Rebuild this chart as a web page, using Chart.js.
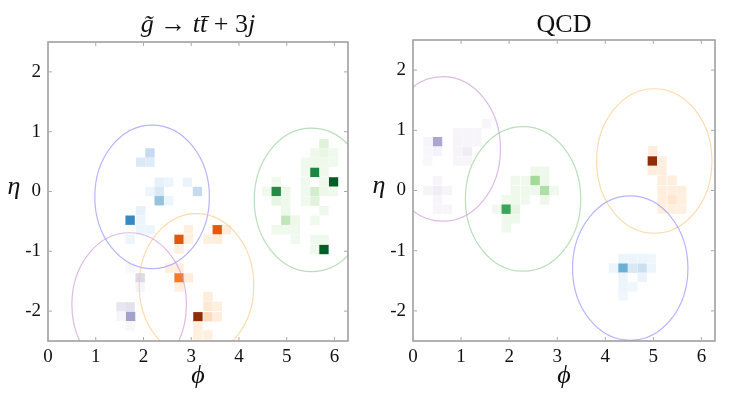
<!DOCTYPE html>
<html>
<head>
<meta charset="utf-8">
<script src="https://cdn.jsdelivr.net/npm/chart.js@4.4.1/dist/chart.umd.min.js"></script>
<style>
  html, body { margin: 0; padding: 0; background: #fff; }
  #wrap { position: relative; width: 738px; height: 398px; }
  canvas { position: absolute; top: 0; }
</style>
</head>
<body>
<div id="wrap">
  <canvas id="sigChart" width="369" height="398" style="left:0"></canvas>
  <canvas id="qcdChart" width="369" height="398" style="left:369px"></canvas>
</div>
<script>
// axes
const phiTicks = [0, 1, 2, 3, 4, 5, 6];
const etaTicks = [-2, -1, 0, 1, 2];
const PHI_MAX = 2 * Math.PI;
const ETA_MIN = -2.5, ETA_MAX = 2.5;
const CELL_DPHI = 2 * Math.PI / 32;   // image is 32 x 32 pixels
const JET_R = 1.2;

// signal event, cells are [phi, eta, intensity]
const sigBlue = [
  [2.135, 0.645, 0.25], [1.94, 0.49, 0.14], [2.135, 0.49, 0.12],
  [2.33, 0.155, 0.08], [2.53, 0.155, 0.05], [2.92, 0.155, 0.06],
  [2.135, 0.0, 0.05], [2.33, 0.0, 0.15], [3.13, 0.0, 0.25],
  [2.33, -0.155, 0.4], [2.53, -0.155, 0.05], [1.94, -0.32, 0.08],
  [1.72, -0.48, 0.66], [1.94, -0.48, 0.05], [1.94, -0.64, 0.05],
  [2.135, -0.64, 0.05], [1.72, -0.80, 0.05]
];
const sigGreen = [
  [5.78, 0.80, 0.15], [5.59, 0.645, 0.06], [5.78, 0.645, 0.1], [5.98, 0.645, 0.05],
  [5.39, 0.49, 0.05], [5.59, 0.49, 0.06], [5.78, 0.49, 0.06], [5.98, 0.49, 0.05],
  [5.39, 0.33, 0.05], [5.59, 0.32, 0.77], [5.78, 0.33, 0.06],
  [5.98, 0.16, 0.93], [5.78, 0.16, 0.06], [5.39, 0.16, 0.05], [4.78, 0.16, 0.05],
  [4.58, 0.0, 0.05], [4.78, 0.0, 0.75], [4.98, 0.0, 0.07], [5.39, 0.0, 0.05],
  [5.59, 0.0, 0.2], [5.78, 0.0, 0.07], [5.98, 0.0, 0.06],
  [4.78, -0.16, 0.12], [4.98, -0.16, 0.06], [5.39, -0.16, 0.05], [5.59, -0.16, 0.15],
  [4.98, -0.32, 0.06], [5.78, -0.32, 0.06],
  [4.98, -0.48, 0.27], [5.18, -0.48, 0.07], [5.59, -0.48, 0.05],
  [4.78, -0.64, 0.05], [4.98, -0.64, 0.05], [5.18, -0.64, 0.05],
  [5.18, -0.80, 0.05], [5.59, -0.80, 0.05], [5.78, -0.80, 0.05],
  [5.59, -0.97, 0.05], [5.78, -0.97, 0.92]
];
const sigPurple = [
  [1.72, -1.28, 0.04], [1.93, -1.445, 0.25], [1.93, -1.60, 0.05],
  [1.53, -1.93, 0.18], [1.72, -1.93, 0.2], [1.53, -2.09, 0.05],
  [1.73, -2.09, 0.48], [1.72, -2.25, 0.04]
];
const sigOrange = [
  [3.545, -0.64, 0.69], [3.74, -0.64, 0.07], [2.94, -0.64, 0.05],
  [2.745, -0.80, 0.7], [2.94, -0.80, 0.05], [3.35, -0.80, 0.05], [3.545, -0.80, 0.06],
  [2.745, -0.96, 0.05], [2.55, -1.28, 0.05], [2.745, -1.28, 0.06],
  [2.745, -1.445, 0.57], [2.94, -1.445, 0.07], [2.745, -1.60, 0.05],
  [3.35, -1.76, 0.07], [3.35, -1.92, 0.1], [3.545, -1.92, 0.05],
  [3.14, -2.095, 0.95], [3.35, -2.095, 0.18], [3.545, -2.095, 0.06],
  [3.14, -2.25, 0.05], [3.14, -2.40, 0.05], [3.35, -2.40, 0.05]
];
// jet axes: blue, green, purple, orange
const sigJetPhi = [2.18, 5.52, 1.70, 3.11];
const sigJetEta = [-0.09, -0.14, -1.89, -1.57];

// QCD event
const qcdPurple = [
  [0.51, 0.81, 0.45], [0.31, 0.81, 0.05], [0.51, 0.65, 0.07], [0.31, 0.65, 0.04],
  [0.31, 0.49, 0.04], [0.93, 0.96, 0.05], [1.13, 0.96, 0.05], [1.33, 0.96, 0.05],
  [1.53, 1.11, 0.05], [0.93, 0.81, 0.06], [1.13, 0.81, 0.05], [1.33, 0.81, 0.05],
  [0.93, 0.65, 0.06], [1.13, 0.65, 0.12], [0.93, 0.49, 0.05], [1.13, 0.49, 0.05],
  [0.51, 0.165, 0.05], [0.31, 0.0, 0.06], [0.51, 0.0, 0.12], [0.71, 0.0, 0.06],
  [0.51, -0.155, 0.05], [0.51, -0.31, 0.05], [0.71, -0.31, 0.05]
];
const qcdGreen = [
  [2.54, 0.32, 0.07], [2.74, 0.32, 0.06], [2.13, 0.165, 0.06], [2.34, 0.165, 0.05],
  [2.54, 0.165, 0.37], [2.74, 0.165, 0.07], [2.13, 0.0, 0.06], [2.34, 0.0, 0.06],
  [2.54, 0.0, 0.06], [2.74, 0.0, 0.33], [2.94, 0.0, 0.05], [1.94, -0.155, 0.05],
  [2.13, -0.155, 0.06], [2.34, -0.155, 0.05], [2.74, -0.155, 0.07], [1.74, -0.31, 0.05],
  [1.94, -0.31, 0.65], [2.13, -0.31, 0.12], [1.94, -0.47, 0.06], [2.13, -0.47, 0.06],
  [1.94, -0.62, 0.05]
];
const qcdOrange = [
  [4.99, 0.66, 0.07], [4.98, 0.49, 0.95], [5.18, 0.49, 0.05], [4.98, 0.33, 0.05],
  [5.18, 0.33, 0.06], [5.18, 0.17, 0.06], [5.39, 0.17, 0.06], [5.18, 0.0, 0.06],
  [5.39, 0.0, 0.06], [5.59, 0.0, 0.05], [5.18, -0.155, 0.06], [5.39, -0.155, 0.12],
  [5.59, -0.155, 0.05], [5.18, -0.31, 0.05], [5.39, -0.31, 0.05], [5.59, -0.31, 0.04]
];
const qcdBlue = [
  [4.37, -1.13, 0.05], [4.57, -1.13, 0.05], [4.77, -1.13, 0.05], [4.96, -1.13, 0.04],
  [4.17, -1.29, 0.05], [4.37, -1.29, 0.5], [4.57, -1.29, 0.15], [4.77, -1.29, 0.22],
  [4.96, -1.29, 0.05], [4.37, -1.44, 0.05], [4.77, -1.44, 0.06], [4.37, -1.6, 0.05],
  [4.57, -1.6, 0.04], [4.37, -1.75, 0.04]
];
// jet axes: purple, green, orange, blue
const qcdJetPhi = [0.62, 2.29, 5.02, 4.52];
const qcdJetEta = [0.69, -0.14, 0.49, -1.29];

// matplotlib sequential colormaps
const CMAPS = {
  Blues: ['#f7fbff', '#deebf7', '#c6dbef', '#9ecae1', '#6baed6', '#4292c6', '#2171b5', '#08519c', '#08306b'],
  Greens: ['#f7fcf5', '#e5f5e0', '#c7e9c0', '#a1d99b', '#74c476', '#41ab5d', '#238b45', '#006d2c', '#00441b'],
  Oranges: ['#fff5eb', '#fee6ce', '#fdd0a2', '#fdae6b', '#fd8d3c', '#f16913', '#d94801', '#a63603', '#7f2704'],
  Purples: ['#fcfbfd', '#efedf5', '#dadaeb', '#bcbddc', '#9e9ac8', '#807dba', '#6a51a3', '#54278f', '#3f007d']
};
const RING = {
  Blues: 'rgba(120,120,255,0.55)',
  Greens: 'rgba(130,195,130,0.55)',
  Oranges: 'rgba(253,195,120,0.6)',
  Purples: 'rgba(200,140,210,0.6)'
};
const SERIF = '"Liberation Serif", "DejaVu Serif", serif';

function hexToRgb(h) {
  const n = parseInt(h.slice(1), 16);
  return [n >> 16, (n >> 8) & 255, n & 255];
}

function cmapColor(name, t) {
  const stops = CMAPS[name];
  const p = Math.min(Math.max(t, 0), 1) * (stops.length - 1);
  const i = Math.min(Math.floor(p), stops.length - 2);
  const f = p - i;
  const a = hexToRgb(stops[i]), b = hexToRgb(stops[i + 1]);
  return 'rgb(' + a.map((v, k) => Math.round(v + (b[k] - v) * f)).join(',') + ')';
}

// jet circles, frame with inward ticks, title and eta label
const decorPlugin = {
  id: 'decor',
  afterDatasetsDraw(chart, args, opts) {
    const { ctx, chartArea: a, scales: { x, y } } = chart;
    ctx.save();
    ctx.beginPath();
    ctx.rect(a.left, a.top, a.right - a.left, a.bottom - a.top);
    ctx.clip();
    ctx.lineWidth = 1.2;
    opts.jetPhi.forEach((phi, i) => {
      const cx = x.getPixelForValue(phi), cy = y.getPixelForValue(opts.jetEta[i]);
      const rx = Math.abs(x.getPixelForValue(phi + JET_R) - cx);
      const ry = Math.abs(y.getPixelForValue(opts.jetEta[i] + JET_R) - cy);
      ctx.strokeStyle = RING[opts.cmaps[i]];
      ctx.beginPath();
      ctx.ellipse(cx, cy, rx, ry, 0, 0, 2 * Math.PI);
      ctx.stroke();
    });
    ctx.restore();

    ctx.save();
    ctx.strokeStyle = '#999';
    ctx.lineWidth = 1.5;
    ctx.strokeRect(a.left, a.top, a.right - a.left, a.bottom - a.top);
    ctx.lineWidth = 1;
    ctx.strokeStyle = '#aaa';
    ctx.beginPath();
    x.ticks.forEach(t => {
      const px = x.getPixelForValue(t.value);
      ctx.moveTo(px, a.top); ctx.lineTo(px, a.top + 4);
      ctx.moveTo(px, a.bottom); ctx.lineTo(px, a.bottom - 4);
    });
    y.ticks.forEach(t => {
      const py = y.getPixelForValue(t.value);
      ctx.moveTo(a.left, py); ctx.lineTo(a.left + 4, py);
      ctx.moveTo(a.right, py); ctx.lineTo(a.right - 4, py);
    });
    ctx.stroke();

    // title made of upright and italic pieces
    ctx.fillStyle = '#111';
    ctx.textBaseline = 'alphabetic';
    const fontFor = s => (s ? 'italic ' : '') + '26px ' + SERIF;
    let w = 0;
    opts.title.forEach(([txt, it]) => { ctx.font = fontFor(it); w += ctx.measureText(txt).width; });
    let tx = (a.left + a.right) / 2 - w / 2;
    opts.title.forEach(([txt, it]) => {
      ctx.font = fontFor(it);
      ctx.fillText(txt, tx, 32);
      tx += ctx.measureText(txt).width;
    });

    ctx.font = 'italic 26px ' + SERIF;
    ctx.textAlign = 'center';
    ctx.textBaseline = 'middle';
    ctx.fillText('\u03B7', opts.etaX, (a.top + a.bottom) / 2 - 4);
    ctx.restore();
  }
};

function makePanel(id, jets, jetPhi, jetEta, title, box) {
  new Chart(document.getElementById(id), {
    type: 'scatter',
    data: {
      datasets: jets.map(j => ({
        data: j.cells.map(c => ({ x: c[0], y: c[1], w: c[2] })),
        pointStyle: 'rect',
        pointBorderWidth: 0,
        pointBackgroundColor: ctx => cmapColor(j.cmap, ctx.raw ? ctx.raw.w : 0),
        pointRadius: ctx => {
          const s = ctx.chart.scales.x;
          return Math.abs(s.getPixelForValue(CELL_DPHI) - s.getPixelForValue(0)) / Math.SQRT2;
        }
      }))
    },
    options: {
      responsive: false,
      animation: false,
      events: [],
      layout: { padding: { left: 0, top: box.top, right: box.right, bottom: 0 } },
      plugins: {
        legend: { display: false },
        tooltip: { enabled: false },
        decor: { jetPhi, jetEta, cmaps: jets.map(j => j.cmap), title, etaX: box.etaX }
      },
      scales: {
        x: {
          type: 'linear',
          min: 0,
          max: PHI_MAX,
          afterBuildTicks: s => { s.ticks = phiTicks.map(v => ({ value: v })); },
          afterFit: s => { s.height = 57; },
          grid: { display: false, drawTicks: false },
          border: { display: false },
          ticks: { padding: 5, color: '#111', font: { family: SERIF, size: 19 } },
          title: { display: true, text: '\u03D5', color: '#111', padding: { top: 0, bottom: 6 },
                   font: { family: SERIF, size: 26, style: 'italic' } }
        },
        y: {
          type: 'linear',
          min: ETA_MIN,
          max: ETA_MAX,
          afterBuildTicks: s => { s.ticks = etaTicks.map(v => ({ value: v })); },
          afterFit: s => { s.width = box.left; },
          grid: { display: false, drawTicks: false },
          border: { display: false },
          ticks: { padding: 7, color: '#111', font: { family: SERIF, size: 19 } }
        }
      }
    },
    plugins: [decorPlugin]
  });
}

makePanel('sigChart', [
  { cells: sigBlue, cmap: 'Blues' },
  { cells: sigGreen, cmap: 'Greens' },
  { cells: sigPurple, cmap: 'Purples' },
  { cells: sigOrange, cmap: 'Oranges' }
], sigJetPhi, sigJetEta,
  [['g\u0303', 1], [' \u2192 ', 0], ['t', 1], ['t\u0304', 1], [' + 3', 0], ['j', 1]],
  { top: 42, right: 21, left: 48, etaX: 14 });

makePanel('qcdChart', [
  { cells: qcdPurple, cmap: 'Purples' },
  { cells: qcdGreen, cmap: 'Greens' },
  { cells: qcdOrange, cmap: 'Oranges' },
  { cells: qcdBlue, cmap: 'Blues' }
], qcdJetPhi, qcdJetEta,
  [['QCD', 0]],
  { top: 40, right: 23, left: 44, etaX: 10 });
</script>
</body>
</html>
